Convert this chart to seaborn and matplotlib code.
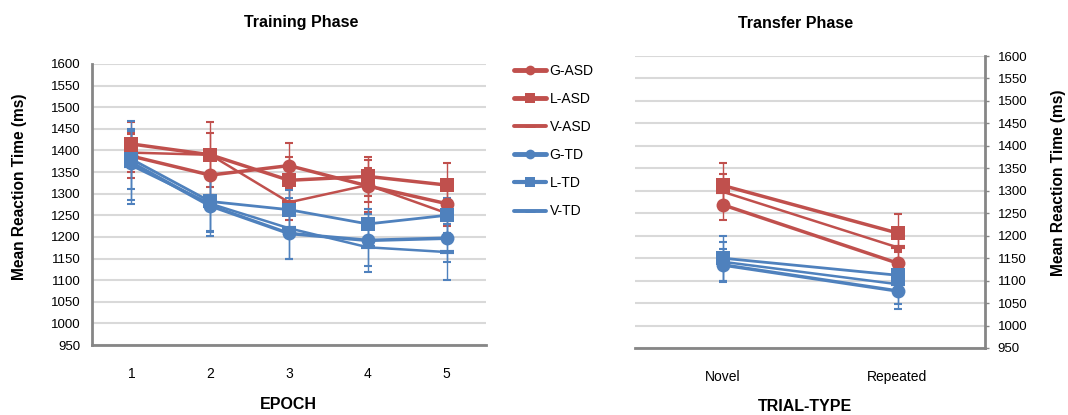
import numpy as np
import pandas as pd
import matplotlib
matplotlib.use("Agg")
import matplotlib.pyplot as plt
from matplotlib.lines import Line2D
import seaborn as sns

# Training phase (epochs 1-5)
epochs = [1, 2, 3, 4, 5]
train_g_asd = [1387, 1343, 1365, 1318, 1277]
train_l_asd = [1415, 1390, 1331, 1340, 1320]
train_v_asd = [1395, 1390, 1280, 1320, 1255]
train_g_td = [1372, 1272, 1208, 1192, 1197]
train_l_td = [1380, 1282, 1263, 1230, 1250]
train_v_td = [1365, 1277, 1220, 1176, 1165]

train_g_asd_err = [50, 45, 52, 60, 40]
train_l_asd_err = [50, 75, 53, 45, 50]
train_v_asd_err = [45, 50, 40, 40, 30]
train_g_td_err = [95, 70, 58, 60, 55]
train_l_td_err = [70, 68, 45, 35, 40]
train_v_td_err = [80, 65, 70, 56, 65]

# Transfer phase
trial_types = ["Novel", "Repeated"]
trans_g_asd = [1269, 1139]
trans_l_asd = [1312, 1206]
trans_v_asd = [1298, 1174]
trans_g_td = [1135, 1077]
trans_l_td = [1150, 1112]
trans_v_td = [1142, 1092]

trans_g_asd_err = [35, 30]
trans_l_asd_err = [50, 42]
trans_v_asd_err = [40, 35]
trans_g_td_err = [35, 40]
trans_l_td_err = [50, 35]
trans_v_td_err = [45, 45]

yticks = list(range(950, 1601, 50))

sns.set_style("white")
plt.rcParams['font.family'] = ['Liberation Sans', 'DejaVu Sans']
plt.rcParams['text.color'] = 'black'
plt.rcParams['axes.labelcolor'] = 'black'

RED = "#C0504D"
BLUE = "#4F81BD"
GRID = "#D9D9D9"
SPINE = "#868686"

styles = {
    "G-ASD": dict(color=RED, marker="o", ms=10, lw=2.5, mew=0),
    "L-ASD": dict(color=RED, marker="s", ms=10, lw=2.5, mew=0),
    "V-ASD": dict(color=RED, marker="_", ms=10, lw=1.8, mew=3),
    "G-TD": dict(color=BLUE, marker="o", ms=10, lw=2.5, mew=0),
    "L-TD": dict(color=BLUE, marker="s", ms=10, lw=2.0, mew=0),
    "V-TD": dict(color=BLUE, marker="_", ms=10, lw=1.8, mew=3),
}

train = {
    "G-ASD": (train_g_asd, train_g_asd_err),
    "L-ASD": (train_l_asd, train_l_asd_err),
    "V-ASD": (train_v_asd, train_v_asd_err),
    "G-TD": (train_g_td, train_g_td_err),
    "L-TD": (train_l_td, train_l_td_err),
    "V-TD": (train_v_td, train_v_td_err),
}
trans = {
    "G-ASD": (trans_g_asd, trans_g_asd_err),
    "L-ASD": (trans_l_asd, trans_l_asd_err),
    "V-ASD": (trans_v_asd, trans_v_asd_err),
    "G-TD": (trans_g_td, trans_g_td_err),
    "L-TD": (trans_l_td, trans_l_td_err),
    "V-TD": (trans_v_td, trans_v_td_err),
}

W, H = 1068, 415
fig = plt.figure(figsize=(W / 100, H / 100), dpi=100)
ax1 = fig.add_axes([92 / W, 70 / H, 394 / W, 281 / H])
ax2 = fig.add_axes([635 / W, 67 / H, 350 / W, 292 / H])


def draw(ax, x, series):
    for name, (vals, errs) in series.items():
        st = styles[name]
        ax.errorbar(x, vals, yerr=errs, fmt="none", ecolor=st["color"],
                    elinewidth=1, capsize=3, capthick=1.5, zorder=2)
        df = pd.DataFrame({"x": x, "y": vals})
        sns.lineplot(data=df, x="x", y="y", ax=ax, color=st["color"],
                     marker=st["marker"], markersize=st["ms"], lw=st["lw"],
                     markeredgewidth=st["mew"], markeredgecolor=st["color"],
                     legend=False, zorder=3)


draw(ax1, epochs, train)
draw(ax2, [0, 1], trans)

for ax in (ax1, ax2):
    ax.set_ylim(950, 1600)
    ax.set_yticks(yticks)
    ax.yaxis.grid(True, color=GRID, lw=1.5)
    ax.set_axisbelow(True)
    for s in ax.spines.values():
        s.set_visible(False)
    ax.spines["bottom"].set_visible(True)
    ax.spines["bottom"].set_color(SPINE)
    ax.spines["bottom"].set_linewidth(2)
    ax.tick_params(axis="both", labelsize=9.5, labelcolor="black",
                   length=4, width=1, pad=8)
    ax.tick_params(axis="x", color=SPINE, length=4, direction="in",
                   labelsize=10, pad=16)
    ax.set_ylabel("")
    ax.set_xlabel("")

ax1.set_xlim(0.5, 5.5)
ax1.set_xticks(epochs)
ax1.spines["left"].set_visible(True)
ax1.spines["left"].set_color(SPINE)
ax1.spines["left"].set_linewidth(2)
ax1.tick_params(axis="y", length=0, pad=8)

ax2.set_xlim(-0.5, 1.5)
ax2.set_xticks([0, 1])
ax2.set_xticklabels(trial_types)
ax2.spines["right"].set_visible(True)
ax2.spines["right"].set_color(SPINE)
ax2.spines["right"].set_linewidth(2)
ax2.yaxis.tick_right()
ax2.tick_params(axis="y", left=False, right=True, length=3, color=SPINE, pad=6)

# titles and axis labels placed in figure pixels
def ftext(x, y, s, **kw):
    fig.text(x / W, 1 - y / H, s, fontweight="bold", ha="center", va="center", **kw)

ftext(301, 23, "Training Phase", fontsize=11.5)
ftext(796, 23, "Transfer Phase", fontsize=11.5)
ftext(288, 404, "EPOCH", fontsize=11.5)
ftext(805, 406, "TRIAL-TYPE", fontsize=11.5)
ftext(20, 187, "Mean Reaction Time (ms)", fontsize=11.2, rotation=90)
ftext(1058, 183, "Mean Reaction Time (ms)", fontsize=11.2, rotation=90)

handles = []
for name, st in styles.items():
    handles.append(Line2D([], [], color=st["color"], marker=st["marker"],
                          markersize=7, lw=st["lw"] + 1,
                          markeredgewidth=st["mew"] * 0.7,
                          markeredgecolor=st["color"], label=name))
fig.legend(handles=handles, loc="upper left",
           bbox_to_anchor=(508 / W, 1 - 58 / H), frameon=False,
           fontsize=10, handlelength=2.3, labelspacing=1.02,
           handletextpad=0.3, borderaxespad=0)

fig.savefig("out.png", dpi=100)
